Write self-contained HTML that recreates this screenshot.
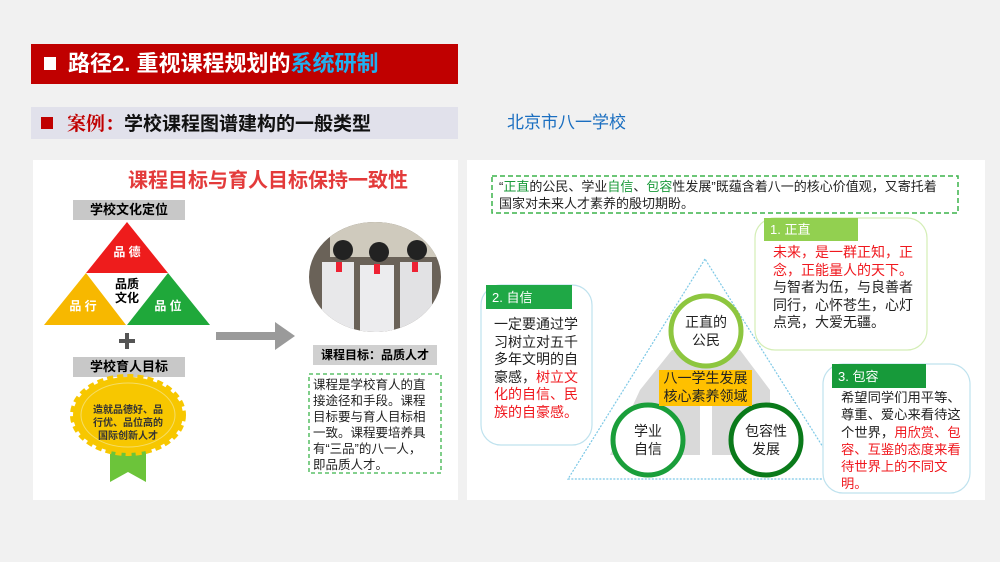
<!DOCTYPE html>
<html><head><meta charset="utf-8"><style>
*{margin:0;padding:0;box-sizing:border-box}
body{width:1000px;height:562px;background:#f1f1f1;position:relative;overflow:hidden;font-family:"Liberation Sans","Noto Sans CJK SC",sans-serif}
.a{position:absolute}
.t{font-size:14px;line-height:17.5px;color:#222}
.r{color:#f0181e}
.g{color:#1a9a3a}
</style></head><body>
<div class="a" style="left:31px;top:44px;width:427px;height:40px;background:#c00000"></div>
<div class="a" style="left:44px;top:57px;width:12px;height:13px;background:#fff"></div>
<div class="a" style="left:68px;top:48px;font-size:22px;line-height:32px;font-weight:bold;color:#fff;white-space:nowrap">路径2. 重视课程规划的<span style="color:#1fb0f0">系统研制</span></div>
<div class="a" style="left:31px;top:107px;width:427px;height:32px;background:#e1e1eb"></div>
<div class="a" style="left:41px;top:117px;width:12px;height:12px;background:#c00000"></div>
<div class="a" style="left:67px;top:108px;font-size:19px;line-height:30px;font-weight:bold;color:#111;white-space:nowrap"><span style="color:#c00000;font-family:'Noto Serif CJK SC',serif">案例：</span>学校课程图谱建构的一般类型</div>
<div class="a" style="left:507px;top:110px;font-size:17px;line-height:26px;color:#1a6ec0">北京市八一学校</div>

<div class="a" style="left:33px;top:160px;width:425px;height:340px;background:#fff"></div>
<div class="a" style="left:467px;top:160px;width:518px;height:340px;background:#fff"></div>

<svg class="a" style="left:0;top:0" width="1000" height="562">
<rect x="73" y="200" width="112" height="20" fill="#c8c8c8"/>
<rect x="73" y="357" width="112" height="20" fill="#c8c8c8"/>
<polygon points="127,222 86,273 168,273" fill="#ee1c1c"/>
<polygon points="86,273 44,325 126,325" fill="#f7b800"/>
<polygon points="168,273 127,325 210,325" fill="#1fa83a"/>
<rect x="119" y="339" width="16" height="4" fill="#555"/>
<rect x="125" y="333" width="4" height="16" fill="#555"/>
<rect x="110" y="445" width="36" height="37" fill="#6cc43a"/>
<polygon points="110,482 128,472 146,482 146,490 110,490" fill="#fff"/>
<ellipse cx="128" cy="415" rx="55" ry="38" fill="#f7c700" stroke="#f7c700" stroke-width="6" stroke-dasharray="6 4"/>
<ellipse cx="128" cy="415" rx="47" ry="32" fill="none" stroke="#f5dd66" stroke-width="1"/>
<rect x="216" y="332" width="60" height="8" fill="#9a9a9a"/>
<polygon points="275,322 295,336 275,350" fill="#9a9a9a"/>
<defs><clipPath id="c"><ellipse cx="375" cy="277" rx="66" ry="55"/></clipPath></defs>
<g clip-path="url(#c)">
<rect x="305" y="220" width="140" height="120" fill="#6a6258"/>
<rect x="330" y="222" width="110" height="35" fill="#cfcabd"/>
<rect x="322" y="262" width="32" height="72" fill="#e8e8ea"/>
<rect x="360" y="265" width="34" height="72" fill="#ececee"/>
<rect x="400" y="262" width="32" height="72" fill="#e2e2e4"/>
<circle cx="343" cy="250" r="10" fill="#222"/><circle cx="379" cy="252" r="10" fill="#222"/><circle cx="417" cy="250" r="10" fill="#222"/>
<rect x="336" y="262" width="6" height="10" fill="#e23"/><rect x="374" y="264" width="6" height="10" fill="#e23"/><rect x="412" y="262" width="6" height="10" fill="#e23"/>
</g>
<rect x="313" y="345" width="124" height="20" fill="#d0d0d0"/>
<rect x="309" y="374" width="132" height="99" fill="none" stroke="#3bb34a" stroke-width="1.3" stroke-dasharray="4 3"/>
<rect x="492" y="176" width="466" height="37" fill="none" stroke="#3bb34a" stroke-width="1.5" stroke-dasharray="5 3"/>
<polygon points="705,259 568,479 843,479" fill="none" stroke="#7cc8e6" stroke-width="1.2" stroke-dasharray="2 1.5"/>
<polygon points="672,350 740,350 770,390 770,455 712,455 712,405 700,405 700,455 610,455 640,390" fill="#d9d9d9"/>
<rect x="702" y="400" width="8" height="60" fill="#fff"/>
<circle cx="706" cy="331" r="35" fill="#fff" stroke="#8dc63f" stroke-width="5"/>
<circle cx="648" cy="440" r="35" fill="#fff" stroke="#1a9e3a" stroke-width="5"/>
<circle cx="766" cy="440" r="35" fill="#fff" stroke="#0a7a1a" stroke-width="5"/>
<rect x="659" y="370" width="93" height="36" fill="#ffc000"/>
<rect x="755" y="218" width="172" height="132" rx="20" fill="#fff" stroke="#d4eeb6" stroke-width="1.2"/>
<rect x="764" y="218" width="94" height="23" fill="#92d050"/>
<rect x="481" y="285" width="111" height="160" rx="20" fill="#fff" stroke="#bfe2ee" stroke-width="1.2"/>
<rect x="486" y="285" width="86" height="24" fill="#1fa846"/>
<rect x="823" y="364" width="147" height="129" rx="20" fill="#fff" stroke="#bfe2ee" stroke-width="1.2"/>
<rect x="832" y="364" width="94" height="24" fill="#179a3a"/>
</svg>

<div class="a" style="left:128px;top:169px;font-size:20px;font-weight:bold;color:#e33b3b;white-space:nowrap;line-height:24px">课程目标与育人目标保持一致性</div>
<div class="a" style="left:73px;top:200px;width:112px;text-align:center;font-size:13px;font-weight:bold;line-height:20px">学校文化定位</div>
<div class="a" style="left:73px;top:357px;width:112px;text-align:center;font-size:13px;font-weight:bold;line-height:20px">学校育人目标</div>
<div class="a" style="left:107px;top:243px;width:40px;text-align:center;font-size:12px;font-weight:bold;color:#fff">品 德</div>
<div class="a" style="left:63px;top:297px;width:40px;text-align:center;font-size:12px;font-weight:bold;color:#fff">品 行</div>
<div class="a" style="left:148px;top:297px;width:40px;text-align:center;font-size:12px;font-weight:bold;color:#fff">品 位</div>
<div class="a" style="left:107px;top:277px;width:40px;text-align:center;font-size:12px;font-weight:bold;line-height:14px">品质<br>文化</div>
<div class="a" style="left:91px;top:404px;width:74px;text-align:center;font-size:10px;font-weight:bold;line-height:13px;color:#333">造就品德好、品行优、品位高的国际创新人才</div>
<div class="a" style="left:313px;top:345px;width:124px;text-align:center;font-size:12px;font-weight:bold;line-height:20px">课程目标：品质人才</div>
<div class="a" style="left:313px;top:377px;width:115px;font-size:12.5px;line-height:16px;color:#222">课程是学校育人的直接途径和手段。课程目标要与育人目标相一致。课程要培养具有“三品”的八一人，即品质人才。</div>

<div class="a" style="left:499px;top:178px;width:442px;font-size:13px;line-height:17px;color:#222">“<span class="g">正直</span>的公民、学业<span class="g">自信</span>、<span class="g">包容</span>性发展”既蕴含着八一的核心价值观，又寄托着国家对未来人才素养的殷切期盼。</div>
<div class="a" style="left:770px;top:219px;font-size:13px;color:#fff;line-height:21px">1. 正直</div>
<div class="a t" style="left:773px;top:244px;width:142px"><span class="r">未来，是一群正知，正念，正能量人的天下。</span>与智者为伍，与良善者同行，心怀苍生，心灯点亮，大爱无疆。</div>
<div class="a" style="left:492px;top:287px;font-size:13px;color:#fff;line-height:21px">2. 自信</div>
<div class="a t" style="left:494px;top:316px;width:85px">一定要通过学习树立对五千多年文明的自豪感，<span class="r">树立文化的自信、民族的自豪感。</span></div>
<div class="a" style="left:838px;top:367px;font-size:13px;color:#fff;line-height:20px">3. 包容</div>
<div class="a t" style="left:841px;top:389px;width:121px;font-size:13.3px;line-height:17.3px">希望同学们用平等、尊重、爱心来看待这个世界，<span class="r">用欣赏、包容、互鉴的态度来看待世界上的不同文明。</span></div>
<div class="a t" style="left:676px;top:314px;width:60px;text-align:center">正直的<br>公民</div>
<div class="a t" style="left:618px;top:423px;width:60px;text-align:center">学业<br>自信</div>
<div class="a t" style="left:736px;top:423px;width:60px;text-align:center">包容性<br>发展</div>
<div class="a t" style="left:655px;top:370px;width:101px;text-align:center">八一学生发展<br>核心素养领域</div>
</body></html>
